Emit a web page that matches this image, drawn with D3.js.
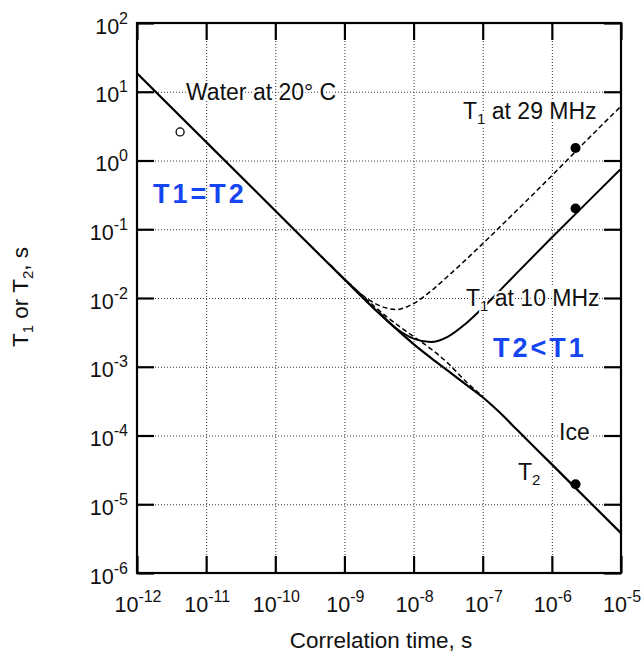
<!DOCTYPE html>
<html>
<head>
<meta charset="utf-8">
<script src="https://cdn.jsdelivr.net/npm/d3@7"></script>
<style>
  body { margin: 0; background: #fff; }
  text { font-family: "Liberation Sans", Arial, Helvetica, sans-serif; fill: #111; }
</style>
</head>
<body>
<svg id="chart" width="642" height="663"></svg>
<script>
// correlation time (s) and relaxation times (s)
const t2Tau    = [1e-12, 1e-11, 1e-10, 1e-9, 3.16e-9, 5.62e-9, 1e-8, 1.78e-8, 3.16e-8, 5.62e-8, 1e-7, 1.78e-7, 3.16e-7, 1e-6, 3.16e-6, 1e-5];
const t2Values = [18.6, 1.86, 0.186, 0.0186, 6.0e-3, 3.55e-3, 2.14e-3, 1.35e-3, 8.7e-4, 5.6e-4, 3.6e-4, 2.14e-4, 1.2e-4, 3.8e-5, 1.2e-5, 3.8e-6];

const t1at10Tau    = [3.16e-9, 5.62e-9, 1e-8, 1.78e-8, 3.16e-8, 5.62e-8, 1e-7, 1.78e-7, 3.16e-7, 1e-6, 3.16e-6, 1e-5];
const t1at10Values = [6.2e-3, 3.6e-3, 2.57e-3, 2.29e-3, 2.75e-3, 4.2e-3, 7.2e-3, 0.0129, 0.0234, 0.0759, 0.24, 0.76];

const t1at29Tau    = [3.16e-10, 1e-9, 1.78e-9, 3.16e-9, 5.62e-9, 1e-8, 1.78e-8, 3.16e-8, 5.62e-8, 1e-7, 3.16e-7, 1e-6, 3.16e-6, 1e-5];
const t1at29Values = [0.0589, 0.0191, 0.0112, 7.8e-3, 6.8e-3, 8.3e-3, 0.0126, 0.0209, 0.0355, 0.0617, 0.191, 0.603, 1.95, 6.17];

const t2at29Tau    = [6.31e-10, 1e-9, 1.78e-9, 3.16e-9, 5.62e-9, 1e-8, 1.78e-8, 3.16e-8, 5.62e-8, 1e-7];
const t2at29Values = [0.0302, 0.0191, 0.0111, 6.6e-3, 4.17e-3, 2.75e-3, 1.82e-3, 1.12e-3, 6.2e-4, 3.7e-4];

const waterTau = [4.2e-12];
const waterValues = [2.6];
const iceTau = [2.2e-6, 2.2e-6, 2.2e-6];
const iceValues = [1.52, 0.2, 1.95e-5];

const xExponents = [-12, -11, -10, -9, -8, -7, -6, -5];
const yExponents = [2, 1, 0, -1, -2, -3, -4, -5, -6];

const margin = {top: 23, right: 21, bottom: 90, left: 137};
const width = 642 - margin.left - margin.right;
const height = 663 - margin.top - margin.bottom;

const svg = d3.select("#chart");
const g = svg.append("g").attr("transform", `translate(${margin.left},${margin.top})`);

const x = d3.scaleLog().domain([1e-12, 1e-5]).range([0, width]);
const y = d3.scaleLog().domain([1e-6, 1e2]).range([height, 0]);

const xTicks = xExponents.map(e => Math.pow(10, e));
const yTicks = yExponents.map(e => Math.pow(10, e));

// dotted grid
g.append("g")
  .attr("transform", `translate(0,${height})`)
  .call(d3.axisBottom(x).tickValues(xTicks.slice(1, -1)).tickSize(-height).tickFormat(""))
  .call(a => a.select(".domain").remove())
  .call(a => a.selectAll("line").attr("stroke", "#333").attr("stroke-width", 1).attr("stroke-dasharray", "1,2"));
g.append("g")
  .call(d3.axisLeft(y).tickValues(yTicks.slice(1, -1)).tickSize(-width).tickFormat(""))
  .call(a => a.select(".domain").remove())
  .call(a => a.selectAll("line").attr("stroke", "#333").attr("stroke-width", 1).attr("stroke-dasharray", "1,2"));

// major ticks pointing inwards on all four sides
function styleTicks(a) {
  a.select(".domain").remove();
  a.selectAll("line").attr("stroke", "#000").attr("stroke-width", 2.2);
}
g.append("g").attr("transform", `translate(0,${height})`)
  .call(d3.axisBottom(x).tickValues(xTicks).tickSize(-17).tickFormat("")).call(styleTicks);
g.append("g")
  .call(d3.axisTop(x).tickValues(xTicks).tickSize(-17).tickFormat("")).call(styleTicks);
g.append("g")
  .call(d3.axisLeft(y).tickValues(yTicks).tickSize(-17).tickFormat("")).call(styleTicks);
g.append("g").attr("transform", `translate(${width},0)`)
  .call(d3.axisRight(y).tickValues(yTicks).tickSize(-17).tickFormat("")).call(styleTicks);

g.append("rect")
  .attr("width", width).attr("height", height)
  .attr("fill", "none").attr("stroke", "#000").attr("stroke-width", 2.2);

// tick labels as 10 with superscript exponent
function powerLabel(sel, exp) {
  sel.append("tspan").text("10");
  sel.append("tspan").attr("dy", -10).attr("font-size", 16).text(exp);
}
xExponents.forEach(e => {
  g.append("text")
    .attr("x", x(Math.pow(10, e)) + 1)
    .attr("y", height + 38.5)
    .attr("text-anchor", "middle")
    .attr("font-size", 21.5)
    .call(powerLabel, e);
});
yExponents.forEach(e => {
  g.append("text")
    .attr("x", -9)
    .attr("y", y(Math.pow(10, e)) + 10.5)
    .attr("text-anchor", "end")
    .attr("font-size", 21.5)
    .call(powerLabel, e);
});

// axis titles
g.append("text")
  .attr("x", width / 2 + 2)
  .attr("y", height + 75)
  .attr("text-anchor", "middle")
  .attr("font-size", 22.5)
  .text("Correlation time, s");

const yTitle = svg.append("text")
  .attr("transform", "translate(28,297) rotate(-90)")
  .attr("text-anchor", "middle")
  .attr("font-size", 22.5);
yTitle.append("tspan").text("T");
yTitle.append("tspan").attr("font-size", 15).attr("dy", 5).text("1");
yTitle.append("tspan").attr("dy", -5).text(" or T");
yTitle.append("tspan").attr("font-size", 15).attr("dy", 5).text("2");
yTitle.append("tspan").attr("dy", -5).text(", s");

// curves
const line = d3.line()
  .x(d => x(d[0]))
  .y(d => y(d[1]))
  .curve(d3.curveMonotoneX);

const plot = g.append("g");
plot.append("path")
  .attr("d", line(d3.zip(t2at29Tau, t2at29Values)))
  .attr("fill", "none").attr("stroke", "#000").attr("stroke-width", 1.5).attr("stroke-dasharray", "5,3");
plot.append("path")
  .attr("d", line(d3.zip(t1at29Tau, t1at29Values)))
  .attr("fill", "none").attr("stroke", "#000").attr("stroke-width", 1.5).attr("stroke-dasharray", "5,3");
plot.append("path")
  .attr("d", line(d3.zip(t1at10Tau, t1at10Values)))
  .attr("fill", "none").attr("stroke", "#000").attr("stroke-width", 2);
plot.append("path")
  .attr("d", line(d3.zip(t2Tau, t2Values)))
  .attr("fill", "none").attr("stroke", "#000").attr("stroke-width", 2.2);

// measured points
plot.selectAll(".water")
  .data(d3.zip(waterTau, waterValues))
  .join("circle")
  .attr("cx", d => x(d[0])).attr("cy", d => y(d[1])).attr("r", 4)
  .attr("fill", "#fff").attr("stroke", "#000").attr("stroke-width", 1.3);
plot.selectAll(".ice")
  .data(d3.zip(iceTau, iceValues))
  .join("circle")
  .attr("cx", d => x(d[0])).attr("cy", d => y(d[1])).attr("r", 5)
  .attr("fill", "#000");

// annotations (white halo breaks grid and curve like the print)
function label(px, py, parts) {
  const t = svg.append("text")
    .attr("x", px).attr("y", py)
    .attr("font-size", 23)
    .attr("stroke", "#fff").attr("stroke-width", 4).attr("paint-order", "stroke");
  parts.forEach(p => {
    const s = t.append("tspan").text(p.text);
    if (p.sub) s.attr("font-size", 15).attr("dy", 5);
    if (p.back) s.attr("dy", -5);
  });
  return t;
}
label(186, 100, [{text: "Water at 20° C"}]);
label(463, 119, [{text: "T"}, {text: "1", sub: true}, {text: " at 29 MHz", back: true}]);
label(466, 306, [{text: "T"}, {text: "1", sub: true}, {text: " at 10 MHz", back: true}]);
label(559, 440, [{text: "Ice"}]);
label(518, 480, [{text: "T"}, {text: "2", sub: true}]);

svg.append("text")
  .attr("x", 153).attr("y", 203)
  .attr("font-size", 27).attr("font-weight", "bold").attr("letter-spacing", 3)
  .style("fill", "#1545f0")
  .text("T1=T2");
svg.append("text")
  .attr("x", 493).attr("y", 357)
  .attr("font-size", 27).attr("font-weight", "bold").attr("letter-spacing", 3)
  .style("fill", "#1545f0")
  .text("T2<T1");
</script>
</body>
</html>
